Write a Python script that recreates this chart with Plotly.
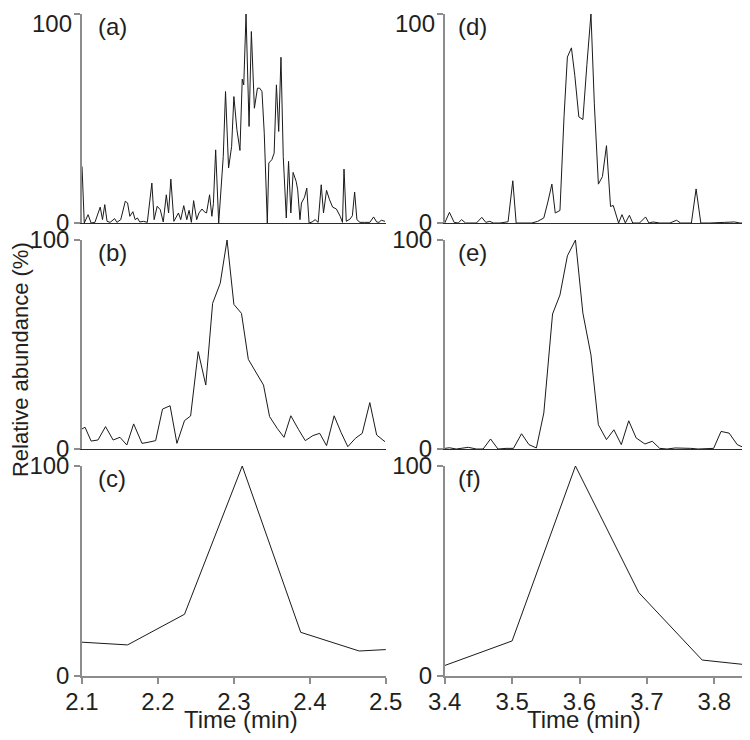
import plotly.graph_objects as go
from plotly.subplots import make_subplots

# (a) - raw trace, left column
time_a = [2.100, 2.103, 2.108, 2.112, 2.117, 2.124, 2.127, 2.130, 2.133, 2.137,
          2.143, 2.146, 2.151, 2.157, 2.160, 2.163, 2.167, 2.170, 2.173, 2.176,
          2.181, 2.186, 2.192, 2.195, 2.199, 2.203, 2.207, 2.211, 2.214, 2.217,
          2.221, 2.224, 2.227, 2.230, 2.234, 2.238, 2.241, 2.244, 2.247, 2.251,
          2.254, 2.258, 2.261, 2.264, 2.268, 2.271, 2.273, 2.276, 2.280, 2.286,
          2.289, 2.293, 2.297, 2.300, 2.304, 2.308, 2.311, 2.313, 2.316, 2.320,
          2.323, 2.327, 2.331, 2.334, 2.337, 2.340, 2.344, 2.346, 2.350, 2.353,
          2.356, 2.359, 2.362, 2.365, 2.369, 2.372, 2.375, 2.378, 2.382, 2.384,
          2.387, 2.389, 2.393, 2.396, 2.399, 2.403, 2.407, 2.411, 2.415, 2.418,
          2.422, 2.426, 2.430, 2.435, 2.440, 2.443, 2.445, 2.448, 2.453, 2.456,
          2.459, 2.462, 2.466, 2.472, 2.479, 2.484, 2.488, 2.491, 2.494, 2.499]
abund_a = [27.1, 0, 4.0, 0, 0.3, 7.6, 1.6, 8.8, 0.8, 0.3,
           2.1, 0.3, 1.6, 10.4, 9.6, 3.2, 5.4, 1.6, 2.4, 0.5,
           0.8, 0.3, 19.1, 1.6, 8.0, 6.4, 0.5, 13.5, 4.8, 21.0,
           0.8, 3.2, 4.8, 1.6, 8.3, 1.6, 6.1, 0.3, 10.7, 1.6,
           4.8, 6.7, 5.4, 4.8, 13.5, 3.2, 9.2, 35.0, 0, 31.8,
           62.9, 26.3, 36.6, 60.5, 44.6, 34.7, 68.8, 66.1, 100, 46.2,
           91.6, 54.9, 64.5, 64.5, 62.9, 43.0, 0, 28.7, 30.3, 33.4,
           66.1, 43.8, 79.3, 31.8, 2.4, 29.5, 4.8, 24.2, 19.9, 15.9,
           1.6, 9.6, 12.3, 16.7, 0, 0.5, 1.6, 0.3, 18.3, 4.8,
           15.6, 11.1, 7.6, 6.7, 3.2, 0.3, 25.8, 0.8, 1.9, 3.5,
           14.8, 1.6, 0.3, 0.3, 0.3, 2.9, 0.5, 0.3, 1.3, 0.8]

# (b)
time_b = [2.100, 2.104, 2.112, 2.121, 2.131, 2.141, 2.150, 2.159, 2.168, 2.179,
          2.187, 2.197, 2.206, 2.216, 2.225, 2.235, 2.243, 2.253, 2.263, 2.272,
          2.282, 2.291, 2.300, 2.310, 2.319, 2.329, 2.339, 2.347, 2.357, 2.366,
          2.375, 2.385, 2.394, 2.404, 2.413, 2.422, 2.432, 2.441, 2.450, 2.460,
          2.469, 2.479, 2.488, 2.499]
abund_b = [9.6, 10.4, 3.8, 4.3, 10.7, 4.3, 5.6, 1.9, 12.0, 2.7,
           3.2, 4.0, 19.1, 20.7, 2.7, 13.6, 15.8, 46.6, 30.6, 69.7,
           79.3, 100, 69.2, 64.9, 42.9, 37.0, 30.6, 15.5, 9.9, 5.6,
           15.9, 9.4, 4.0, 6.4, 7.5, 1.6, 15.9, 8.0, 1.1, 5.1,
           7.5, 22.2, 6.7, 3.5]

# (c)
time_c = [2.100, 2.160, 2.235, 2.311, 2.388, 2.465, 2.501]
abund_c = [16.1, 14.8, 29.4, 100, 20.8, 11.9, 12.6]

# (d) - raw trace, right column
time_d = [3.400, 3.407, 3.414, 3.420, 3.425, 3.431, 3.447, 3.455, 3.461, 3.467,
          3.472, 3.482, 3.494, 3.501, 3.506, 3.516, 3.529, 3.538, 3.547, 3.553,
          3.559, 3.564, 3.571, 3.577, 3.582, 3.588, 3.593, 3.599, 3.605, 3.611,
          3.617, 3.622, 3.628, 3.634, 3.640, 3.646, 3.650, 3.658, 3.663, 3.668,
          3.674, 3.679, 3.689, 3.698, 3.703, 3.709, 3.719, 3.734, 3.744, 3.750,
          3.766, 3.773, 3.780, 3.793, 3.808, 3.815, 3.830, 3.838, 3.850]
abund_d = [0, 5.1, 0.3, 0, 1.6, 0, 0, 2.7, 0.3, 0.8,
           0, 0, 0.6, 20.2, 0, 0, 0, 0.8, 2.4, 10.0,
           18.6, 4.8, 6.0, 50.8, 79.4, 83.8, 70.6, 50.8, 49.5, 76.0,
           100, 57.0, 18.6, 22.2, 37.0, 7.9, 8.4, 0, 4.0, 0,
           3.7, 0, 0, 2.9, 0, 0.5, 0, 0, 1.3, 0,
           0, 16.3, 0, 0, 0, 0.3, 0.5, 0, 0]

# (e)
time_e = [3.400, 3.407, 3.417, 3.427, 3.435, 3.447, 3.457, 3.468, 3.479, 3.491,
          3.502, 3.514, 3.525, 3.536, 3.547, 3.560, 3.571, 3.582, 3.594, 3.605,
          3.617, 3.628, 3.640, 3.651, 3.662, 3.673, 3.684, 3.697, 3.708, 3.719,
          3.730, 3.742, 3.754, 3.765, 3.776, 3.787, 3.799, 3.810, 3.822, 3.834,
          3.845, 3.852]
abund_e = [0.3, 0.6, 0, 0.5, 0.8, 0, 0, 4.8, 0, 0.3,
           0.3, 7.3, 2.1, 0.5, 17.2, 64.6, 73.7, 92.4, 100, 65.0,
           45.0, 11.6, 4.5, 9.2, 2.1, 13.5, 5.3, 2.4, 3.7, 0.3,
           0, 0.5, 0.5, 0.3, 0, 0.2, 0.3, 8.4, 7.6, 2.1,
           0.5, 4.1]

# (f)
time_f = [3.400, 3.500, 3.594, 3.688, 3.782, 3.852]
abund_f = [5.0, 16.7, 100, 39.7, 7.6, 5.2]

panel_labels = ["(a)", "(d)", "(b)", "(e)", "(c)", "(f)"]
left_ticks = [2.1, 2.2, 2.3, 2.4, 2.5]
right_ticks = [3.4, 3.5, 3.6, 3.7, 3.8]
y_ticks = [0, 100]

FONT = "Arial, Liberation Sans, sans-serif"
AXIS_GRAY = "#8c8c8c"
TEXT = "#231f20"

# page body has an 8px margin, so work in shifted pixel coordinates
OFF = 8
W, H = 750 - OFF, 740 - OFF
L, T, R, B = 82 - OFF, 14 - OFF, 748.5 - OFF, 676 - OFF
PW, PH = R - L, B - T
col_px = [(82 - OFF, 386 - OFF), (445 - OFF, 748.5 - OFF)]
row_px = [(14 - OFF, 223 - OFF), (240 - OFF, 449 - OFF), (466 - OFF, 676 - OFF)]


def px_x(p):
    return (p - OFF - L) / PW


def px_y(p):
    return 1 - (p - OFF - T) / PH


fig = make_subplots(rows=3, cols=2)

series = [(time_a, abund_a), (time_d, abund_d),
          (time_b, abund_b), (time_e, abund_e),
          (time_c, abund_c), (time_f, abund_f)]

for i, (t, v) in enumerate(series):
    r, c = i // 2 + 1, i % 2 + 1
    fig.add_trace(go.Scatter(x=t, y=v, mode="lines",
                             line=dict(color="#1a1a1a", width=1),
                             showlegend=False, hoverinfo="skip"),
                  row=r, col=c)

for i in range(6):
    r, c = i // 2, i % 2
    n = "" if i == 0 else str(i + 1)
    x0, x1 = col_px[c]
    y0, y1 = row_px[r]
    bottom = r == 2
    top = r == 0
    ticks = left_ticks if c == 0 else right_ticks
    xr = [2.1, 2.5] if c == 0 else [3.4, 3.85]
    fig.layout["xaxis" + n].update(
        domain=[(x0 - L) / PW, (x1 - L) / PW], range=xr, automargin=False,
        showgrid=False, zeroline=False, showline=True,
        linecolor=AXIS_GRAY if bottom else "#2b2b2b", linewidth=1.5 if bottom else 1,
        ticks="outside" if bottom else "", ticklen=6, tickwidth=1.5, tickcolor=AXIS_GRAY,
        tickvals=ticks if bottom else [], showticklabels=bottom,
        ticktext=[f"{x:.1f}" for x in ticks], ticklabelstandoff=-3,
        ticklabeloverflow="allow",
        tickfont=dict(family=FONT, size=24, color=TEXT),
    )
    # the top "100" labels sit at the page edge, they are drawn as annotations below
    fig.layout["yaxis" + n].update(
        domain=[1 - (y1 - T) / PH, 1 - (y0 - T) / PH], range=[0, 100], automargin=False,
        showgrid=False, zeroline=False, showline=True,
        linecolor=AXIS_GRAY, linewidth=1.5,
        ticks="outside", ticklen=6, tickwidth=1.5, tickcolor=AXIS_GRAY,
        tickvals=y_ticks, ticktext=[str(v) if not (top and v == 100) else "" for v in y_ticks],
        ticklabeloverflow="allow",
        tickfont=dict(family=FONT, size=24, color=TEXT),
    )
    if top:
        fig.add_annotation(text=str(y_ticks[-1]), xref=f"x{n} domain", yref=f"y{n} domain",
                           x=0, y=1, xanchor="right", yanchor="top",
                           xshift=-8, yshift=T, showarrow=False,
                           font=dict(family=FONT, size=24, color=TEXT))
    fig.add_annotation(text=panel_labels[i], xref=f"x{n} domain", yref=f"y{n} domain",
                       x=0, y=1, xanchor="left", yanchor="top",
                       xshift=14 if c == 0 else 11, yshift=3, showarrow=False,
                       font=dict(family=FONT, size=24, color=TEXT))

for xc in (241, 584):
    fig.add_annotation(text="Time (min)", xref="paper", yref="paper",
                       x=px_x(xc), y=px_y(719), xanchor="center", yanchor="middle",
                       showarrow=False, font=dict(family=FONT, size=24, color=TEXT))

fig.add_annotation(text="Relative abundance (%)", xref="paper", yref="paper",
                   x=px_x(20), y=px_y(360), xanchor="center", yanchor="middle",
                   textangle=-90, showarrow=False,
                   font=dict(family=FONT, size=22, color=TEXT))

fig.update_layout(width=W, height=H,
                  margin=dict(l=L, r=W - R, t=T, b=H - B, pad=0, autoexpand=False),
                  plot_bgcolor="white", paper_bgcolor="white")

fig.write_html("out.html")
